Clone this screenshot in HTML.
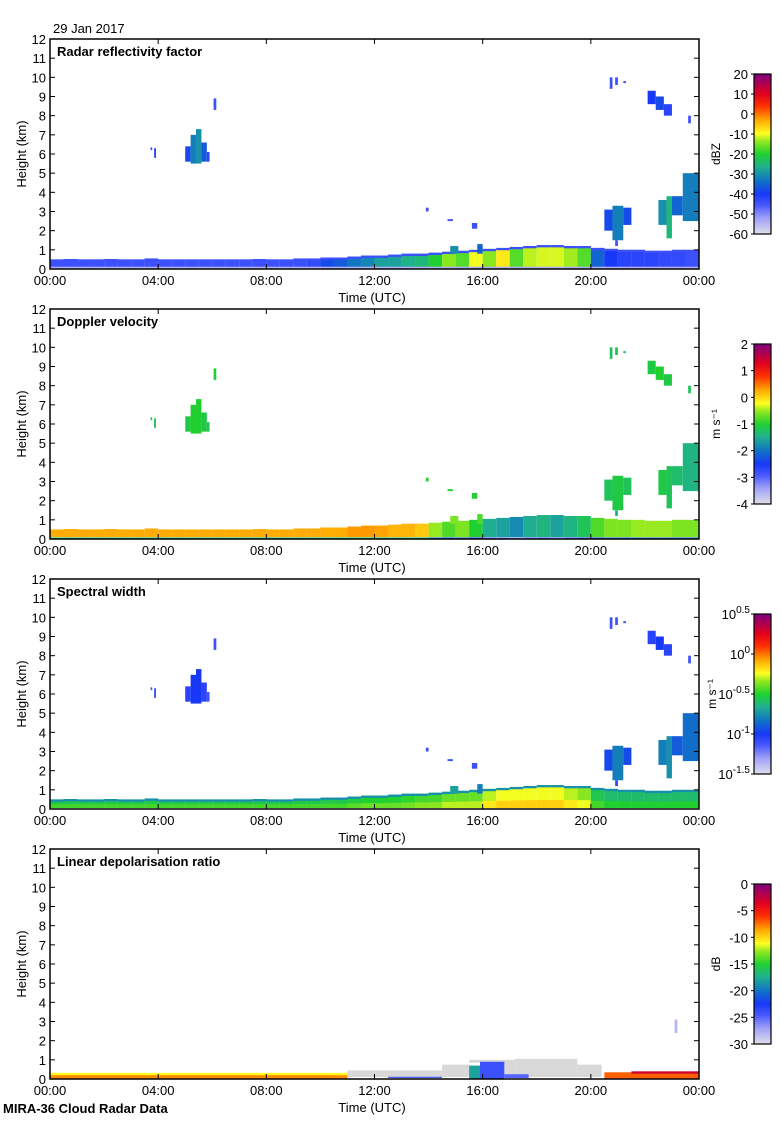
<!DOCTYPE html>
<html><head><meta charset="utf-8">
<style>
body{margin:0;background:#fff;}
svg text{font-family:"Liberation Sans",sans-serif;fill:#000;}
</style></head>
<body>
<svg id="chart" width="780" height="1120" xmlns="http://www.w3.org/2000/svg">
<text x="53" y="33" font-size="13">29 Jan 2017</text>
<text x="3" y="1113" font-size="13" font-weight="bold">MIRA-36 Cloud Radar Data</text>
</svg>
<script>
// ---------- data ----------
const panelTitles = ["Radar reflectivity factor","Doppler velocity","Spectral width","Linear depolarisation ratio"];
const panelUnits = ["dBZ","m s\u207B\u00B9","m s\u207B\u00B9","dB"];
const cbTicks0 = ["20","10","0","-10","-20","-30","-40","-50","-60"];
const cbTicks1 = ["2","1","0","-1","-2","-3","-4"];
const cbTicks2 = ["10^0.5","10^0","10^-0.5","10^-1","10^-1.5"];
const cbTicks3 = ["0","-5","-10","-15","-20","-25","-30"];
const cbRanges = [[-60,20],[-4,2],[-1.5,0.5],[-30,0]];
const xTickLabels = ["00:00","04:00","08:00","12:00","16:00","20:00","00:00"];
const xTickHours = [0,4,8,12,16,20,24];
const yTicks = [0,1,2,3,4,5,6,7,8,9,10,11,12];

// boundary layer, half-hourly columns
const blTop = [0.5,0.52,0.5,0.5,0.52,0.5,0.5,0.55,0.5,0.5,0.5,0.5,0.5,0.5,0.5,0.52,0.5,0.5,0.55,0.55,
  0.6,0.6,0.65,0.7,0.7,0.75,0.8,0.8,0.85,0.9,0.95,1.0,1.05,1.1,1.15,1.2,1.25,1.25,1.2,1.2,
  1.1,1.05,1.0,1.0,0.95,0.95,1.0,1.0];
const blDbz = [-44,-44,-44,-44,-44,-44,-44,-44,-44,-44,-44,-44,-44,-44,-44,-44,-44,-44,-44,-43,
  -38,-36,-33,-31,-28,-28,-26,-25,-20,-14,-17,-10,-14,-8,-17,-12,-11,-11,-13,-17,
  -35,-40,-42,-42,-42,-43,-43,-44];
const blVel = [0.25,0.25,0.25,0.25,0.25,0.25,0.25,0.25,0.25,0.25,0.25,0.25,0.25,0.25,0.25,0.25,0.25,0.25,0.25,0.25,
  0.25,0.25,0.35,0.35,0.3,0.2,0.2,0.1,-0.5,-0.8,-0.6,-1.0,-1.5,-1.6,-1.8,-1.5,-1.4,-1.6,-1.4,-1.2,
  -0.8,-0.6,-0.6,-0.5,-0.5,-0.5,-0.6,-0.6];
const blWid = [-0.55,-0.55,-0.55,-0.55,-0.55,-0.55,-0.55,-0.55,-0.55,-0.55,-0.55,-0.55,-0.55,-0.55,-0.55,-0.55,-0.55,-0.55,-0.55,-0.55,
  -0.55,-0.55,-0.52,-0.5,-0.5,-0.5,-0.48,-0.45,-0.45,-0.4,-0.4,-0.4,-0.3,-0.25,-0.25,-0.25,-0.25,-0.25,-0.3,-0.35,
  -0.55,-0.6,-0.6,-0.6,-0.6,-0.6,-0.6,-0.6];

// cloud columns [t0,t1,h0,h1]
const cloudGeom = [[3.72,3.78,6.2,6.35],[3.85,3.92,5.8,6.3],[5.0,5.2,5.6,6.4],[5.2,5.4,5.5,7.0],[5.4,5.6,5.5,7.3],
 [5.6,5.8,5.6,6.6],[5.8,5.9,5.6,6.1],[6.05,6.15,8.3,8.9],[20.7,20.8,9.4,10.0],[20.9,21.0,9.6,10.0],
 [21.2,21.3,9.7,9.8],[22.1,22.4,8.6,9.3],[22.4,22.7,8.3,9.0],[22.7,23.0,8.0,8.6],[23.6,23.7,7.6,8.0],
 [13.9,14.0,3.0,3.2],[14.7,14.9,2.5,2.6],[15.6,15.8,2.1,2.4],[20.5,20.8,2.0,3.1],[20.8,21.2,1.5,3.3],
 [21.2,21.5,2.3,3.2],[20.9,21.0,1.2,1.5],[22.5,22.8,2.3,3.6],[22.8,23.0,1.6,3.8],[23.0,23.4,2.8,3.8],
 [23.4,24.0,2.5,5.0],[14.8,15.1,0.8,1.2],[15.8,16.0,0.8,1.3]];
const cloudDbz = [-44,-42,-38,-32,-30,-36,-42,-44,-44,-44,-44,-40,-38,-42,-44,-44,-44,-44,-38,-32,-38,-44,-30,-25,-35,-32,-30,-35];
const cloudVel = [-1.2,-1.2,-1.1,-1.0,-1.0,-1.1,-1.2,-1.0,-1.2,-1.2,-1.2,-1.1,-1.0,-1.1,-1.2,-1.0,-1.0,-1.0,-1.2,-1.1,-1.2,-1.5,-1.1,-1.2,-1.3,-1.4,-0.6,-0.8];
const cloudWid = [-1.1,-1.1,-1.05,-1.0,-1.0,-1.05,-1.1,-1.1,-1.1,-1.1,-1.1,-1.05,-1.0,-1.05,-1.1,-1.1,-1.1,-1.1,-0.95,-0.8,-0.95,-1.05,-0.8,-0.75,-0.9,-0.85,-0.7,-0.8];

// LDR blocks [t0,t1,h0,h1] and values
const ldrGeom = [[0,11,0,0.3],[0,11,0.2,0.32],[12.5,14.5,0.05,0.12],[15.5,15.9,0,0.7],[15.9,16.8,0,0.9],[16.8,17.7,0.05,0.25],[20.5,24,0,0.35],[21.5,24,0.28,0.4],[23.1,23.2,2.4,3.1]];
const ldrVal = [-8,-11,-25,-18,-24,-25,-7,-3,-28];
const grayGeom = [[11,14.5,0.1,0.45],[14.5,15.5,0.1,0.75],[15.5,16.8,0.85,1.0],[16.6,17.2,0.1,1.0],[17.2,19.5,0.1,1.05],[19.5,20.4,0.1,0.75]];

// ---------- drawing ----------
const svg = document.getElementById('chart');
const NS = 'http://www.w3.org/2000/svg';
const X0 = 50, X1 = 699, PH = 230, TOP0 = 39, STEP = 270;
const xs = t => X0 + t / 24 * (X1 - X0);
const ys = (h, p) => TOP0 + p * STEP + (12 - h) / 12 * PH;
const stops = [[0,'#e0e0ec'],[0.1,'#a0a0f8'],[0.18,'#4a5aff'],[0.25,'#1838f8'],[0.33,'#1070c8'],[0.42,'#20b090'],[0.5,'#20d030'],[0.58,'#90e820'],[0.63,'#ffff20'],[0.72,'#ffa000'],[0.8,'#ff3000'],[0.88,'#e00020'],[1,'#800080']];
function hex(c){return [parseInt(c.slice(1,3),16),parseInt(c.slice(3,5),16),parseInt(c.slice(5,7),16)];}
function cmap(v, p){
  const r = cbRanges[p]; let f = (v - r[0]) / (r[1] - r[0]); f = Math.max(0, Math.min(1, f));
  for (let i = 1; i < stops.length; i++) {
    if (f <= stops[i][0]) {
      const a = stops[i-1], b = stops[i], k = (f - a[0]) / (b[0] - a[0]);
      const ca = hex(a[1]), cb = hex(b[1]);
      return 'rgb(' + ca.map((c, j) => Math.round(c + (cb[j] - c) * k)).join(',') + ')';
    }
  }
  return stops[stops.length-1][1];
}
function rect(g, t0, t1, h0, h1, p, fill, name){
  const r = document.createElementNS(NS, 'rect');
  r.setAttribute('x', xs(t0)); r.setAttribute('width', Math.max(1, xs(t1) - xs(t0)));
  r.setAttribute('y', ys(h1, p)); r.setAttribute('height', Math.max(1, ys(h0, p) - ys(h1, p)));
  r.setAttribute('fill', fill);
  
  
  g.appendChild(r);
}
function txt(s, x, y, size, anchor, extra){
  const t = document.createElementNS(NS, 'text');
  t.setAttribute('x', x); t.setAttribute('y', y); t.setAttribute('font-size', size);
  if (anchor) t.setAttribute('text-anchor', anchor);
  if (extra) for (const k in extra) t.setAttribute(k, extra[k]);
  t.textContent = s; svg.appendChild(t); return t;
}
function line(x1,y1,x2,y2){
  const l = document.createElementNS(NS,'line');
  l.setAttribute('x1',x1);l.setAttribute('y1',y1);l.setAttribute('x2',x2);l.setAttribute('y2',y2);
  l.setAttribute('stroke','#000');l.setAttribute('stroke-width','1');
  svg.appendChild(l);
}
const blVals = [blDbz, blVel, blWid];
const cloudVals = [cloudDbz, cloudVel, cloudWid];
const edgeVals = [-44, null, -0.75];
const cbTickSets = [cbTicks0, cbTicks1, cbTicks2, cbTicks3];

for (let p = 0; p < 4; p++) {
  const g = document.createElementNS(NS, 'g');
  
  
  svg.appendChild(g);
  if (p < 3) {
    for (let i = 0; i < blTop.length; i++) {
      const t0 = i * 0.5, t1 = t0 + 0.5, top = blTop[i];
      const v = blVals[p][i];
      rect(g, t0, t1, 0.1, top, p, cmap(v, p), 'boundary-layer-cell');
      if (edgeVals[p] !== null) rect(g, t0, t1, top - 0.12, top, p, cmap(edgeVals[p], p), 'boundary-layer-edge');
      if (p === 0) rect(g, t0, t1, 0, 0.12, p, cmap(-54, p), 'boundary-layer-base');
      if (p === 1) rect(g, t0, t1, 0, 0.08, p, cmap(v - 1.5, p), 'boundary-layer-base');
      if (p === 2) rect(g, t0, t1, 0.05, 0.1 + top * 0.3, p, cmap(v + 0.1, p), 'boundary-layer-base');
    }
    for (let i = 0; i < cloudGeom.length; i++) {
      const c = cloudGeom[i];
      rect(g, c[0], c[1], c[2], c[3], p, cmap(cloudVals[p][i], p), 'cloud-cell');
    }
  } else {
    for (let i = 0; i < grayGeom.length; i++) {
      const c = grayGeom[i];
      rect(g, c[0], c[1], c[2], c[3], p, '#d8d8d8', 'ldr-masked-cell');
    }
    for (let i = 0; i < ldrGeom.length; i++) {
      const c = ldrGeom[i];
      rect(g, c[0], c[1], c[2], c[3], p, cmap(ldrVal[i], p), 'ldr-cell');
    }
  }
  const top = TOP0 + p * STEP, bot = top + PH;
  const fr = document.createElementNS(NS,'rect');
  fr.setAttribute('x',X0);fr.setAttribute('y',top);fr.setAttribute('width',X1-X0);fr.setAttribute('height',PH);
  fr.setAttribute('fill','none');fr.setAttribute('stroke','#000');fr.setAttribute('stroke-width','1.5');
  
  svg.appendChild(fr);
  for (const h of yTicks) {
    const y = ys(h, p);
    line(X0, y, X0 + 5, y); line(X1 - 5, y, X1, y);
    const t = txt(String(h), X0 - 4, y + 5, 13, 'end');
    
    
  }
  for (let i = 0; i < xTickHours.length; i++) {
    const x = xs(xTickHours[i]);
    line(x, top, x, top + 5); line(x, bot - 5, x, bot);
    const t = txt(xTickLabels[i], x, bot + 16, 13, 'middle');
    
    
  }
  let t = txt('Time (UTC)', 372, bot + 33, 13, 'middle');
  
  
  t = txt('Height (km)', 0, 0, 13, 'middle', {transform: 'translate(26,' + (top + PH/2) + ') rotate(-90)'});
  
  
  t = txt(panelTitles[p], 57, top + 17, 13, null, {'font-weight': 'bold'});
  
  
  const cbTop = top + 35, cbH = 160, cbX = 754, cbW = 17;
  const cg = document.createElementNS(NS,'g');
  
  
  svg.appendChild(cg);
  for (let k = 0; k < 80; k++) {
    const r = document.createElementNS(NS,'rect');
    const f = (k + 0.5) / 80, rg = cbRanges[p];
    r.setAttribute('x', cbX); r.setAttribute('y', cbTop + cbH - (k + 1) * 2);
    r.setAttribute('width', cbW); r.setAttribute('height', 2.2);
    r.setAttribute('fill', cmap(rg[0] + f * (rg[1] - rg[0]), p));
    cg.appendChild(r);
  }
  const cb = document.createElementNS(NS,'rect');
  cb.setAttribute('x',cbX);cb.setAttribute('y',cbTop);cb.setAttribute('width',cbW);cb.setAttribute('height',cbH);
  cb.setAttribute('fill','none');cb.setAttribute('stroke','#000');cb.setAttribute('stroke-width','1.2');
  cg.appendChild(cb);
  const ticks = cbTickSets[p];
  for (let k = 0; k < ticks.length; k++) {
    const y = cbTop + k * cbH / (ticks.length - 1);
    line(cbX - 3, y, cbX, y);
    let lt;
    if (p === 2) {
      const parts = ticks[k].split('^');
      lt = txt('10', cbX - 4, y + 5, 13, 'end');
      const s = document.createElementNS(NS,'tspan');
      s.setAttribute('dy','-6'); s.setAttribute('font-size','10'); s.textContent = parts[1];
      lt.appendChild(s);
    } else {
      lt = txt(ticks[k], cbX - 6, y + 5, 13, 'end');
    }
    
    
  }
  t = txt(panelUnits[p], 0, 0, 12, 'middle', {transform: 'translate(' + (p === 2 ? 716 : 720) + ',' + (cbTop + cbH/2) + ') rotate(-90)'});
  
  
}
</script>
</body></html>
